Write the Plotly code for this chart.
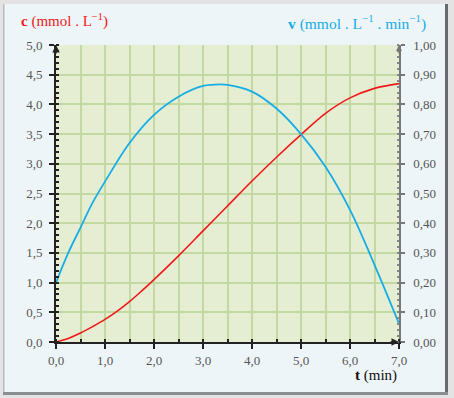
import plotly.graph_objects as go

# ---- data ----
t_c = [0.0, 0.25, 0.5, 0.75, 1.0, 1.25, 1.5, 1.75, 2.0, 2.5, 3.0, 3.5, 4.0, 4.5, 5.0, 5.5, 6.0, 6.5, 7.0]
c_vals = [0.0, 0.06, 0.15, 0.26, 0.38, 0.52, 0.68, 0.86, 1.05, 1.45, 1.87, 2.29, 2.71, 3.11, 3.49, 3.85, 4.11, 4.27, 4.35]

t_v = [0.0, 0.25, 0.5, 0.75, 1.0, 1.5, 2.0, 2.5, 3.0, 3.2, 3.5, 4.0, 4.5, 5.0, 5.5, 6.0, 6.5, 7.0]
v_vals = [0.20, 0.30, 0.385, 0.47, 0.54, 0.67, 0.765, 0.826, 0.862, 0.866, 0.866, 0.843, 0.786, 0.70, 0.59, 0.445, 0.26, 0.062]

x_ticks = [0, 1, 2, 3, 4, 5, 6, 7]

# ---- geometry ----
W, H = 454, 398
L, R, T, B = 56, 55, 45, 56
PW, PH = W - L - R, H - T - B

def px(x):
    return (x - L) / PW

def py(y):
    return (H - B - y) / PH

SERIF = "Liberation Serif"
RED = "#f01818"
BLUE = "#17ade6"

fig = go.Figure()
fig.add_trace(go.Scatter(x=t_c, y=c_vals, mode="lines", line=dict(color=RED, width=1.6, shape="spline"),
                         yaxis="y", showlegend=False, hoverinfo="skip"))
fig.add_trace(go.Scatter(x=t_v, y=v_vals, mode="lines", line=dict(color=BLUE, width=1.8, shape="spline"),
                         yaxis="y2", showlegend=False, hoverinfo="skip"))

grid = "#c2daa2"
tickfont = dict(family=SERIF, size=13, color="#555555")

fig.update_layout(
    width=W, height=H,
    margin=dict(l=L, r=R, t=T, b=B, pad=0),
    paper_bgcolor="#eef5f8",
    plot_bgcolor="#e5eed3",
    separators=", ",
    xaxis=dict(range=[0, 7], tickvals=x_ticks, tickformat=".1f", ticks="outside", ticklen=5, tickwidth=2,
               tickcolor="#222", showline=True, linecolor="#222", linewidth=2, showgrid=True,
               gridcolor=grid, gridwidth=1.5, zeroline=False, tickfont=tickfont, ticklabelstandoff=0,
               minor=dict(dtick=0.5, ticks="inside", ticklen=3, tickcolor="#222", showgrid=True,
                          gridcolor=grid, gridwidth=1.5)),
    yaxis=dict(range=[0, 5], dtick=0.5, tickformat=".1f", ticks="outside", ticklen=5, tickwidth=2,
               tickcolor="#222", showline=True, linecolor="#222", linewidth=2, showgrid=True,
               gridcolor=grid, gridwidth=1.5, zeroline=False, tickfont=tickfont, ticklabelstandoff=4,
               minor=dict(dtick=0.1, ticks="inside", ticklen=3, tickcolor="#222", showgrid=False)),
    yaxis2=dict(range=[0, 1], dtick=0.1, tickformat=".2f", side="right", overlaying="y",
                ticks="outside", ticklen=4, tickwidth=1.5, tickcolor="#777", showline=True,
                linecolor="#777", linewidth=1.5, showgrid=False, zeroline=False, tickfont=tickfont,
                ticklabelstandoff=6,
                minor=dict(dtick=0.02, ticks="inside", ticklen=2, tickcolor="#888", showgrid=False)),
)

# frame strips around the panel
shapes = [
    dict(x0=px(0), x1=px(W), y0=py(0), y1=py(4), fillcolor="#e3e3e3"),
    dict(x0=px(0), x1=px(4), y0=py(0), y1=py(H), fillcolor="#e3e3e3"),
    dict(x0=px(3), x1=px(4.5), y0=py(4), y1=py(393), fillcolor="#b8bcc0"),
    dict(x0=px(445), x1=px(448), y0=py(4), y1=py(395), fillcolor="#666a6e"),
    dict(x0=px(448), x1=px(W), y0=py(0), y1=py(H), fillcolor="#e3e3e3"),
    dict(x0=px(3), x1=px(448), y0=py(392), y1=py(395), fillcolor="#8a8e92"),
    dict(x0=px(0), x1=px(W), y0=py(395), y1=py(H), fillcolor="#e3e3e3"),
]
for s in shapes:
    fig.add_shape(type="rect", xref="paper", yref="paper", line=dict(width=0), layer="above", **s)

# axis arrows
fig.add_annotation(x=0, y=5, xref="x", yref="y", ax=0, ay=10, showarrow=True, arrowhead=2,
                   arrowsize=1, arrowwidth=1.5, arrowcolor="#222", text="")
fig.add_annotation(x=7, y=1, xref="x", yref="y2", ax=0, ay=10, showarrow=True, arrowhead=2,
                   arrowsize=1, arrowwidth=1.2, arrowcolor="#777", text="")
fig.add_annotation(x=7, y=0, xref="x", yref="y", ax=-10, ay=0, showarrow=True, arrowhead=2,
                   arrowsize=1, arrowwidth=1.5, arrowcolor="#222", text="")

# titles
fig.add_annotation(x=px(19), y=py(20), xref="paper", yref="paper", xanchor="left", yanchor="middle",
                   showarrow=False, text="<b>c</b> (mmol . L<sup>−1</sup>)",
                   font=dict(family=SERIF, size=15, color=RED))
fig.add_annotation(x=px(428), y=py(23), xref="paper", yref="paper", xanchor="right", yanchor="middle",
                   showarrow=False, text="<b>v</b> (mmol . L<sup>−1</sup> . min<sup>−1</sup>)",
                   font=dict(family=SERIF, size=15.5, color=BLUE))
fig.add_annotation(x=px(399), y=py(375), xref="paper", yref="paper", xanchor="right", yanchor="middle",
                   showarrow=False, text="<b>t</b> (min)",
                   font=dict(family=SERIF, size=15, color="#111"))

fig.write_html("out.html")
